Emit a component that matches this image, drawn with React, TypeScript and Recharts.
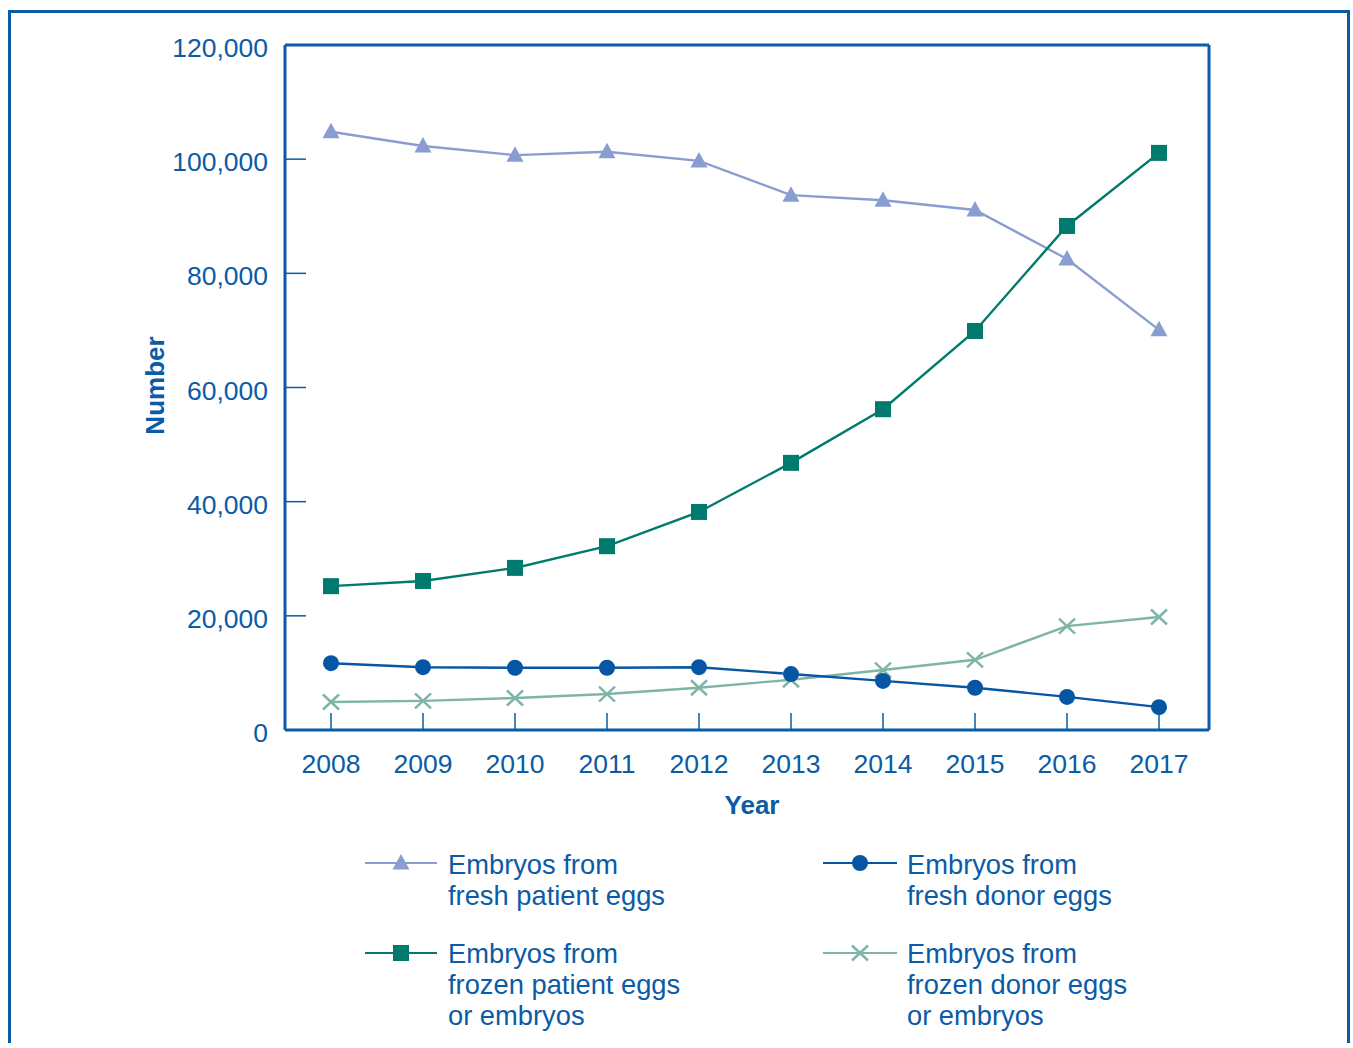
import React from 'react';
import { LineChart, Line, XAxis, YAxis, Legend } from 'recharts';

const years = ['2008', '2009', '2010', '2011', '2012', '2013', '2014', '2015', '2016', '2017'];
const freshPatient = [104800, 102300, 100700, 101300, 99700, 93700, 92800, 91100, 82500, 70100];
const frozenPatient = [25200, 26100, 28400, 32200, 38200, 46800, 56200, 69900, 88300, 101100];
const freshDonor = [11700, 11000, 10900, 10900, 11000, 9800, 8600, 7400, 5800, 4000];
const frozenDonor = [4900, 5100, 5600, 6300, 7400, 8800, 10500, 12300, 18200, 19800];
const yTicks = [0, 20000, 40000, 60000, 80000, 100000, 120000];
const xTitle = 'Year';
const yTitle = 'Number';
const legendFreshPatient = ['Embryos from', 'fresh patient eggs'];
const legendFreshDonor = ['Embryos from', 'fresh donor eggs'];
const legendFrozenPatient = ['Embryos from', 'frozen patient eggs', 'or embryos'];
const legendFrozenDonor = ['Embryos from', 'frozen donor eggs', 'or embryos'];

const data = years.map((year, i) => ({
  year,
  freshPatient: freshPatient[i],
  frozenPatient: frozenPatient[i],
  freshDonor: freshDonor[i],
  frozenDonor: frozenDonor[i],
}));

const BLUE = '#0b5ba6';
const C_TRI = '#8a9dd0';
const C_SQ = '#007a6c';
const C_DOT = '#0656a3';
const C_X = '#7fb4a8';
const FONT = '"Liberation Sans", Arial, Helvetica, sans-serif';

const W = 1336;
const H = 1030;
const PLOT_LEFT = 274;
const PLOT_TOP = 32;
const PLOT_RIGHT = 1198;
const PLOT_BOTTOM = 717;
const YAXIS_W = 120;
const XAXIS_H = 100;

const Triangle = ({ cx, cy, color }: any) => (
  <path d={`M${cx},${cy - 9} L${cx + 8.5},${cy + 6.5} L${cx - 8.5},${cy + 6.5} Z`} fill={color} />
);
const Square = ({ cx, cy, color }: any) => (
  <rect x={cx - 8} y={cy - 8} width={16} height={16} fill={color} />
);
const Dot = ({ cx, cy, color }: any) => <circle cx={cx} cy={cy} r={8} fill={color} />;
const Cross = ({ cx, cy, color }: any) => (
  <path
    d={`M${cx - 8},${cy - 7.5} L${cx + 8},${cy + 7.5} M${cx - 8},${cy + 7.5} L${cx + 8},${cy - 7.5}`}
    stroke={color}
    strokeWidth={2.5}
    fill="none"
  />
);

const makeDot = (Shape: any, color: string) => (props: any) => {
  const { cx, cy, index } = props;
  if (cx == null || cy == null) return <g key={`d-${index}`} />;
  return (
    <g key={`d-${index}`}>
      <Shape cx={cx} cy={cy} color={color} />
    </g>
  );
};

const YTick = (props: any) => {
  const { y, payload } = props;
  const label = Number(payload.value).toLocaleString('en-US');
  return (
    <g>
      {payload.value !== 0 && payload.value !== 120000 && (
        <line x1={PLOT_LEFT} x2={PLOT_LEFT + 21} y1={y} y2={y} stroke={BLUE} strokeWidth={1.5} />
      )}
      <text
        x={PLOT_LEFT - 17}
        y={y}
        dy={12}
        textAnchor="end"
        fill={BLUE}
        fontSize={26.5}
        fontFamily={FONT}
      >
        {label}
      </text>
    </g>
  );
};

const XTick = (props: any) => {
  const { x, payload } = props;
  return (
    <g>
      <line x1={x} x2={x} y1={PLOT_BOTTOM} y2={PLOT_BOTTOM - 17} stroke={BLUE} strokeWidth={1.5} />
      <text x={x} y={PLOT_BOTTOM + 43} textAnchor="middle" fill={BLUE} fontSize={26.5} fontFamily={FONT}>
        {payload.value}
      </text>
    </g>
  );
};

const XTitle = () => (
  <text
    x={(PLOT_LEFT + PLOT_RIGHT) / 2 + 5}
    y={PLOT_BOTTOM + 84}
    textAnchor="middle"
    fill={BLUE}
    fontSize={26}
    fontWeight="bold"
    fontFamily={FONT}
  >
    {xTitle}
  </text>
);

const YTitle = () => {
  const cx = 153;
  const cy = (PLOT_TOP + PLOT_BOTTOM) / 2 - 2;
  return (
    <text
      x={cx}
      y={cy}
      transform={`rotate(-90 ${cx} ${cy})`}
      textAnchor="middle"
      fill={BLUE}
      fontSize={26}
      fontWeight="bold"
      fontFamily={FONT}
    >
      {yTitle}
    </text>
  );
};

const legendItems = [
  { lines: legendFreshPatient, Shape: Triangle, color: C_TRI, iconX: 354, iconW: 72, textX: 437, iconY: 850, textY: 837 },
  { lines: legendFreshDonor, Shape: Dot, color: C_DOT, iconX: 812, iconW: 74, textX: 896, iconY: 850, textY: 837 },
  { lines: legendFrozenPatient, Shape: Square, color: C_SQ, iconX: 354, iconW: 72, textX: 437, iconY: 940, textY: 926 },
  { lines: legendFrozenDonor, Shape: Cross, color: C_X, iconX: 812, iconW: 74, textX: 896, iconY: 940, textY: 926 },
];

const renderLegend = () => (
  <div style={{ position: 'relative', width: 0, height: 0 }}>
    {legendItems.map((it, i) => (
      <React.Fragment key={i}>
        <svg
          width={it.iconW}
          height={20}
          style={{ position: 'absolute', left: it.iconX, top: it.iconY - 10, overflow: 'visible' }}
        >
          <line x1={0} x2={it.iconW} y1={10} y2={10} stroke={it.color} strokeWidth={2} />
          <it.Shape cx={it.iconW / 2} cy={10} color={it.color} />
        </svg>
        <div
          style={{
            position: 'absolute',
            left: it.textX,
            top: it.textY,
            fontFamily: FONT,
            fontSize: 27.3,
            lineHeight: '30.8px',
            color: BLUE,
            whiteSpace: 'nowrap',
          }}
        >
          {it.lines.map((l, j) => (
            <div key={j}>{l}</div>
          ))}
        </div>
      </React.Fragment>
    ))}
  </div>
);

export default function App() {
  return (
    <div style={{ width: 1337, height: 1030 }}>
      <style>{'html{overflow:hidden;}'}</style>
      <div
        style={{
          position: 'fixed',
          left: 8,
          top: 10,
          width: W,
          height: H,
          borderTop: `3px solid ${BLUE}`,
          borderLeft: `3px solid ${BLUE}`,
          borderRight: `3px solid ${BLUE}`,
          background: '#fff',
        }}
      >
        <LineChart
          width={W}
          height={H}
          data={data}
          margin={{
            top: PLOT_TOP - 1,
            left: PLOT_LEFT - YAXIS_W,
            right: W - PLOT_RIGHT - 1,
            bottom: H - PLOT_BOTTOM - XAXIS_H,
          }}
        >
          <XAxis
            dataKey="year"
            padding={{ left: 46, right: 50 }}
            height={XAXIS_H}
            tickLine={false}
            tickSize={0}
            axisLine={{ stroke: BLUE, strokeWidth: 3 }}
            tick={<XTick />}
            interval={0}
            label={{ content: () => <XTitle /> }}
          />
          <XAxis
            xAxisId="top"
            orientation="top"
            dataKey="year"
            height={1}
            tick={false}
            tickLine={false}
            axisLine={{ stroke: BLUE, strokeWidth: 3 }}
          />
          <YAxis
            width={YAXIS_W}
            domain={[0, 120000]}
            ticks={yTicks}
            interval={0}
            tickLine={false}
            tickSize={0}
            axisLine={{ stroke: BLUE, strokeWidth: 3 }}
            tick={<YTick />}
            label={{ content: () => <YTitle /> }}
          />
          <YAxis
            yAxisId="right"
            orientation="right"
            width={1}
            domain={[0, 1]}
            tick={false}
            tickLine={false}
            axisLine={{ stroke: BLUE, strokeWidth: 3 }}
          />
          <Legend
            content={renderLegend}
            layout="horizontal"
            verticalAlign="middle"
            align="center"
            wrapperStyle={{ position: 'absolute', left: 0, top: 0, width: 0, height: 0 }}
          />
          <Line
            type="linear"
            dataKey="freshPatient"
            stroke={C_TRI}
            strokeWidth={2.4}
            dot={makeDot(Triangle, C_TRI)}
            activeDot={false}
            isAnimationActive={false}
          />
          <Line
            type="linear"
            dataKey="frozenPatient"
            stroke={C_SQ}
            strokeWidth={2.4}
            dot={makeDot(Square, C_SQ)}
            activeDot={false}
            isAnimationActive={false}
          />
          <Line
            type="linear"
            dataKey="frozenDonor"
            stroke={C_X}
            strokeWidth={2.4}
            dot={makeDot(Cross, C_X)}
            activeDot={false}
            isAnimationActive={false}
          />
          <Line
            type="linear"
            dataKey="freshDonor"
            stroke={C_DOT}
            strokeWidth={2.4}
            dot={makeDot(Dot, C_DOT)}
            activeDot={false}
            isAnimationActive={false}
          />
        </LineChart>
      </div>
    </div>
  );
}
